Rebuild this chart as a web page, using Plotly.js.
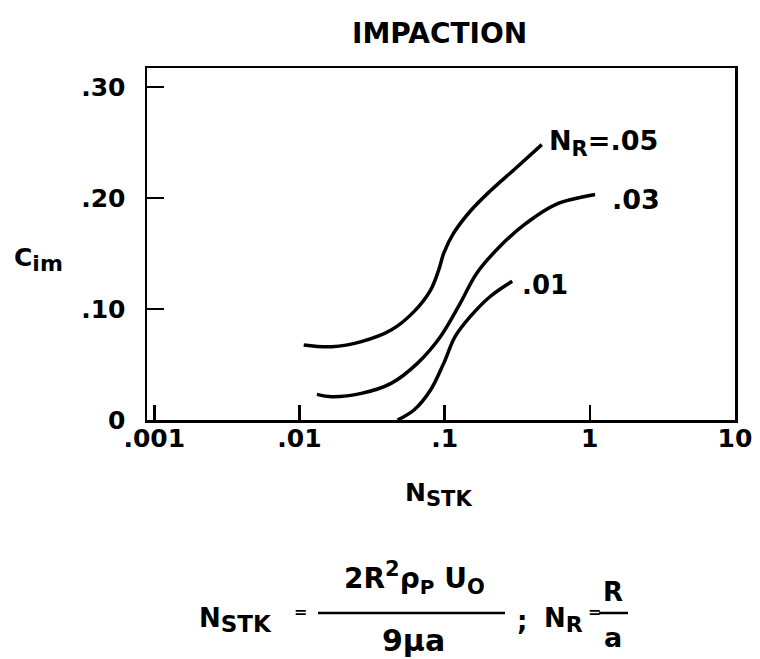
<!DOCTYPE html>
<html>
<head>
<meta charset="utf-8">
<script src="https://cdn.plot.ly/plotly-3.0.1.min.js"></script>
<style>
  html, body { margin: 0; padding: 0; background: #fff; }
  #chart { width: 760px; height: 659px; }
</style>
</head>
<body>
<div id="chart"></div>
<script>
// Impaction efficiency C_im against Stokes number N_STK for three N_R values
const nstk05 = [0.0107, 0.0167, 0.0267, 0.0428, 0.0615, 0.080, 0.091, 0.0985, 0.115, 0.150, 0.205, 0.310, 0.467];
const cim05  = [0.0676, 0.066, 0.0706, 0.081, 0.0976, 0.117, 0.135, 0.150, 0.168, 0.188, 0.206, 0.227, 0.248];

const nstk03 = [0.0132, 0.0167, 0.0267, 0.0428, 0.0649, 0.0935, 0.128, 0.166, 0.239, 0.363, 0.581, 1.087];
const cim03  = [0.0231, 0.021, 0.024, 0.033, 0.051, 0.075, 0.105, 0.132, 0.156, 0.177, 0.194, 0.203];

const nstk01 = [0.0474, 0.0615, 0.080, 0.0985, 0.118, 0.150, 0.205, 0.292];
const cim01  = [0.0, 0.009, 0.027, 0.051, 0.075, 0.093, 0.111, 0.125];

const xTickVals = [0.001, 0.01, 0.1, 1, 10];
const xTickText = ['.001', '.01', '.1', '1', '10'];
const yTickVals = [0, 0.1, 0.2, 0.3];
const yTickText = ['0', '.10', '.20', '.30'];

// subscript / superscript with its own size, so it stays close to the main letters
const sub = (t, s) => '<sub><span style="font-size:' + s + 'px">' + t + '</span></sub>';
const sup = (t, s) => '<sup><span style="font-size:' + s + 'px">' + t + '</span></sup>';

const curveLabels = ['N' + sub('R', 21) + '=.05', '.03', '.01'];

// plot box in page pixels
const L = 147, R = 735, T = 68, B = 420;
const W = 760, H = 659;
const px = x => (x - L) / (R - L);
const py = y => (B - y) / (B - T);

const FONT = 'DejaVu Sans, Liberation Sans, sans-serif';
const ink = '#000';

function curve(x, y) {
  return {
    x: x, y: y, type: 'scatter', mode: 'lines',
    line: { color: ink, width: 3.5, shape: 'spline', smoothing: 1 },
    hoverinfo: 'skip', showlegend: false
  };
}

const traces = [curve(nstk05, cim05), curve(nstk03, cim03), curve(nstk01, cim01)];

function note(text, x, y, size, xanchor) {
  return {
    text: text, xref: 'paper', yref: 'paper', x: px(x), y: py(y),
    xanchor: xanchor || 'center', yanchor: 'middle', showarrow: false,
    font: { family: FONT, size: size, color: ink, weight: 'bold' }
  };
}

const annotations = [
  note('IMPACTION', 439, 33, 28),
  note('C' + sub('im', 22), 12, 259, 25, 'left'),
  note('N' + sub('STK', 21), 438, 494, 25),
  note(curveLabels[0], 547, 143, 27, 'left'),
  note(curveLabels[1], 610, 199, 27, 'left'),
  note(curveLabels[2], 520, 285, 26, 'left'),
  // N_STK = 2R²ρ_P U_O / 9μa ; N_R = R / a
  note('N' + sub('STK', 23), 197, 620, 26, 'left'),
  note('=', 300, 611, 16),
  note('2R' + sup('2', 21) + 'ρ' + sub('P', 20) + ' U' + sub('O', 21), 414, 578, 28),
  note('9μa', 413, 640, 30),
  note(';', 522, 621, 26),
  note('N' + sub('R', 22), 542, 620, 26, 'left'),
  note('=', 594, 611, 16),
  note('R', 613, 592, 26),
  note('a', 613, 637, 27)
];

const paperLine = (x0, x1, y) => ({
  type: 'line', xref: 'paper', yref: 'paper',
  x0: px(x0), x1: px(x1), y0: py(y), y1: py(y),
  line: { color: ink, width: 2.5 }
});

const tickFont = { family: FONT, size: 25, color: ink, weight: 'bold' };

const layout = {
  width: W, height: H,
  margin: { l: L, r: W - R, t: T, b: H - B, pad: 0 },
  paper_bgcolor: '#fff', plot_bgcolor: '#fff',
  showlegend: false,
  font: { family: FONT, color: ink, size: 25, weight: 'bold' },
  xaxis: {
    type: 'log', range: [-3.05, 1],
    tickvals: xTickVals, ticktext: xTickText,
    ticks: 'inside', ticklen: 15, tickwidth: 2.5, tickcolor: ink,
    showline: true, linewidth: 2.5, linecolor: ink, mirror: true,
    showgrid: false, zeroline: false,
    ticklabelstandoff: -6,
    tickfont: tickFont
  },
  yaxis: {
    range: [0, 0.317],
    tickvals: yTickVals, ticktext: yTickText,
    ticks: 'inside', ticklen: 17, tickwidth: 2.5, tickcolor: ink,
    showline: true, linewidth: 2.5, linecolor: ink, mirror: true,
    showgrid: false, zeroline: false,
    ticklabelstandoff: 14,
    tickfont: tickFont
  },
  annotations: annotations,
  shapes: [paperLine(318, 505, 613), paperLine(599, 628, 613)]
};

Plotly.newPlot('chart', traces, layout, { staticPlot: true, displayModeBar: false });
</script>
</body>
</html>
